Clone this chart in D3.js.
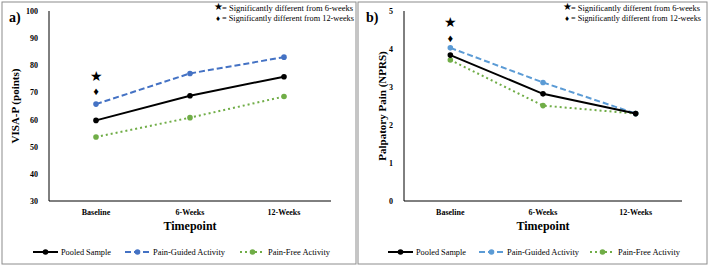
<!DOCTYPE html>
<html>
<head>
<meta charset="utf-8">
<script src="https://cdn.jsdelivr.net/npm/d3@7"></script>
<style>
  body { margin: 0; background: #fff; }
  text { font-family: "Liberation Serif", "Times New Roman", serif; }
</style>
</head>
<body>
<svg width="709" height="266"></svg>
<script>
let categories = ["Baseline", "6-Weeks", "12-Weeks"];

// panel a: VISA-P
let visaPooled = [59.7, 68.8, 75.8],
    visaGuided = [65.7, 77.0, 83.0],
    visaFree = [53.6, 60.7, 68.5],
    visaTicks = [30, 40, 50, 60, 70, 80, 90, 100],
    visaStar = 76, visaDiamond = 70.5;

// panel b: palpatory pain
let nprsPooled = [3.84, 2.82, 2.3],
    nprsGuided = [4.03, 3.12, 2.3],
    nprsFree = [3.71, 2.51, 2.3],
    nprsTicks = [0, 1, 2, 3, 4, 5],
    nprsStar = 4.71, nprsDiamond = 4.3;

let legendNames = ["Pooled Sample", "Pain-Guided Activity", "Pain-Free Activity"],
    legendWidths = [50, 72, 62];

let svg = d3.select("svg");

function panel(opt) {
  let g = svg.append("g").attr("transform", "translate(" + opt.x0 + ",0)");

  g.append("rect").attr("x", opt.box[0]).attr("y", 2).attr("width", opt.box[1]).attr("height", 262)
    .attr("fill", "none").attr("stroke", "#8c8c8c").attr("stroke-width", 1);

  let x = d3.scaleBand().domain(categories).range([opt.left, opt.right]),
      y = d3.scaleLinear().domain(opt.domain).range([201, 11]);

  // axes lines
  g.append("line").attr("x1", opt.left).attr("x2", opt.left).attr("y1", y(opt.domain[1])).attr("y2", y(opt.domain[0]))
    .attr("stroke", "#000").attr("stroke-width", 1);
  g.append("line").attr("x1", opt.left).attr("x2", opt.right).attr("y1", y(opt.domain[0])).attr("y2", y(opt.domain[0]))
    .attr("stroke", "#000").attr("stroke-width", 1);

  g.selectAll(".ytick").data(opt.ticks).enter().append("text")
    .attr("x", opt.left - 11).attr("y", d => y(d) + 3)
    .attr("text-anchor", "end").attr("font-size", 8).attr("font-weight", "bold").text(d => d);

  g.selectAll(".xtick").data(categories).enter().append("text")
    .attr("x", d => x(d) + x.bandwidth() / 2).attr("y", 215)
    .attr("text-anchor", "middle").attr("font-size", 8).attr("font-weight", "bold").text(d => d);

  g.append("text").attr("x", (opt.left + opt.right) / 2).attr("y", 230)
    .attr("text-anchor", "middle").attr("font-size", 12).attr("font-weight", "bold").text("Timepoint");

  g.append("text").attr("transform", "translate(" + opt.ylabX + "," + y((opt.domain[0] + opt.domain[1]) / 2) + ") rotate(-90)")
    .attr("text-anchor", "middle").attr("font-size", 11).attr("font-weight", "bold").text(opt.ylabel);

  g.append("text").attr("x", opt.tagX).attr("y", 22).attr("font-size", 14).attr("font-weight", "bold").text(opt.tag);

  let line = d3.line().x((d, i) => x(categories[i]) + x.bandwidth() / 2).y(d => y(d));
  let series = [
    {vals: opt.pooled, color: "#000", dash: null},
    {vals: opt.guided, color: opt.blue, dash: "6,3"},
    {vals: opt.free, color: "#70ad47", dash: "2,3"}
  ];
  // draw black last so it sits on top like the original
  [series[2], series[1], series[0]].forEach(s => {
    g.append("path").datum(s.vals).attr("d", line).attr("fill", "none")
      .attr("stroke", s.color).attr("stroke-width", 2).attr("stroke-dasharray", s.dash);
    g.selectAll(null).data(s.vals).enter().append("circle")
      .attr("cx", (d, i) => x(categories[i]) + x.bandwidth() / 2).attr("cy", d => y(d))
      .attr("r", 2.8).attr("fill", s.color);
  });

  // significance markers
  let bx = x(categories[0]) + x.bandwidth() / 2;
  g.append("text").attr("x", bx).attr("y", y(opt.star) + 5).attr("text-anchor", "middle")
    .attr("font-size", 14).attr("font-family", "DejaVu Sans").text("\u2605");
  g.append("text").attr("x", bx).attr("y", y(opt.diamond) + 4).attr("text-anchor", "middle")
    .attr("font-size", 11).attr("font-family", "DejaVu Sans").text("\u2666");

  // note top right
  g.append("text").attr("x", opt.noteX).attr("y", 10).attr("text-anchor", "middle")
    .attr("font-size", 10).attr("font-family", "DejaVu Sans").text("\u2605");
  g.append("text").attr("x", opt.noteX + 4).attr("y", 11).attr("font-size", 8.5)
    .attr("textLength", opt.noteW[0]).attr("lengthAdjust", "spacingAndGlyphs")
    .text("= Significantly  different from 6-weeks");
  g.append("text").attr("x", opt.noteX).attr("y", 21).attr("text-anchor", "middle")
    .attr("font-size", 8).attr("font-family", "DejaVu Sans").text("\u2666");
  g.append("text").attr("x", opt.noteX + 4).attr("y", 21).attr("font-size", 8.5)
    .attr("textLength", opt.noteW[1]).attr("lengthAdjust", "spacingAndGlyphs")
    .text("= Significantly  different from 12-weeks");

  // legend
  let lg = g.selectAll(".leg").data(series).enter().append("g")
    .attr("transform", (d, i) => "translate(" + opt.legX[i] + ",252)");
  lg.append("line").attr("x1", 0).attr("x2", 25).attr("stroke", d => d.color)
    .attr("stroke-width", 2).attr("stroke-dasharray", d => d.dash);
  lg.append("circle").attr("cx", 12.5).attr("r", 2.8).attr("fill", d => d.color);
  lg.append("text").attr("x", 28).attr("y", 3).attr("font-size", 9)
    .attr("textLength", (d, i) => legendWidths[i]).attr("lengthAdjust", "spacingAndGlyphs")
    .text((d, i) => legendNames[i]);
}

panel({
  x0: 0, box: [2, 354], left: 49, right: 331, domain: [30, 100], ticks: visaTicks,
  ylabel: "VISA-P (points)", ylabX: 19, tag: "a)", tagX: 9,
  pooled: visaPooled, guided: visaGuided, free: visaFree, blue: "#4472c4",
  star: visaStar, diamond: visaDiamond, noteX: 218, noteW: [131, 132], legX: [33, 125, 240]
});

panel({
  x0: 355, box: [3, 349], left: 49, right: 327, domain: [0, 5], ticks: nprsTicks,
  ylabel: "Palpatory Pain (NPRS)", ylabX: 31, tag: "b)", tagX: 11,
  pooled: nprsPooled, guided: nprsGuided, free: nprsFree, blue: "#5b9bd5",
  star: nprsStar, diamond: nprsDiamond, noteX: 212, noteW: [129, 130], legX: [33, 124, 235]
});
</script>
</body>
</html>
